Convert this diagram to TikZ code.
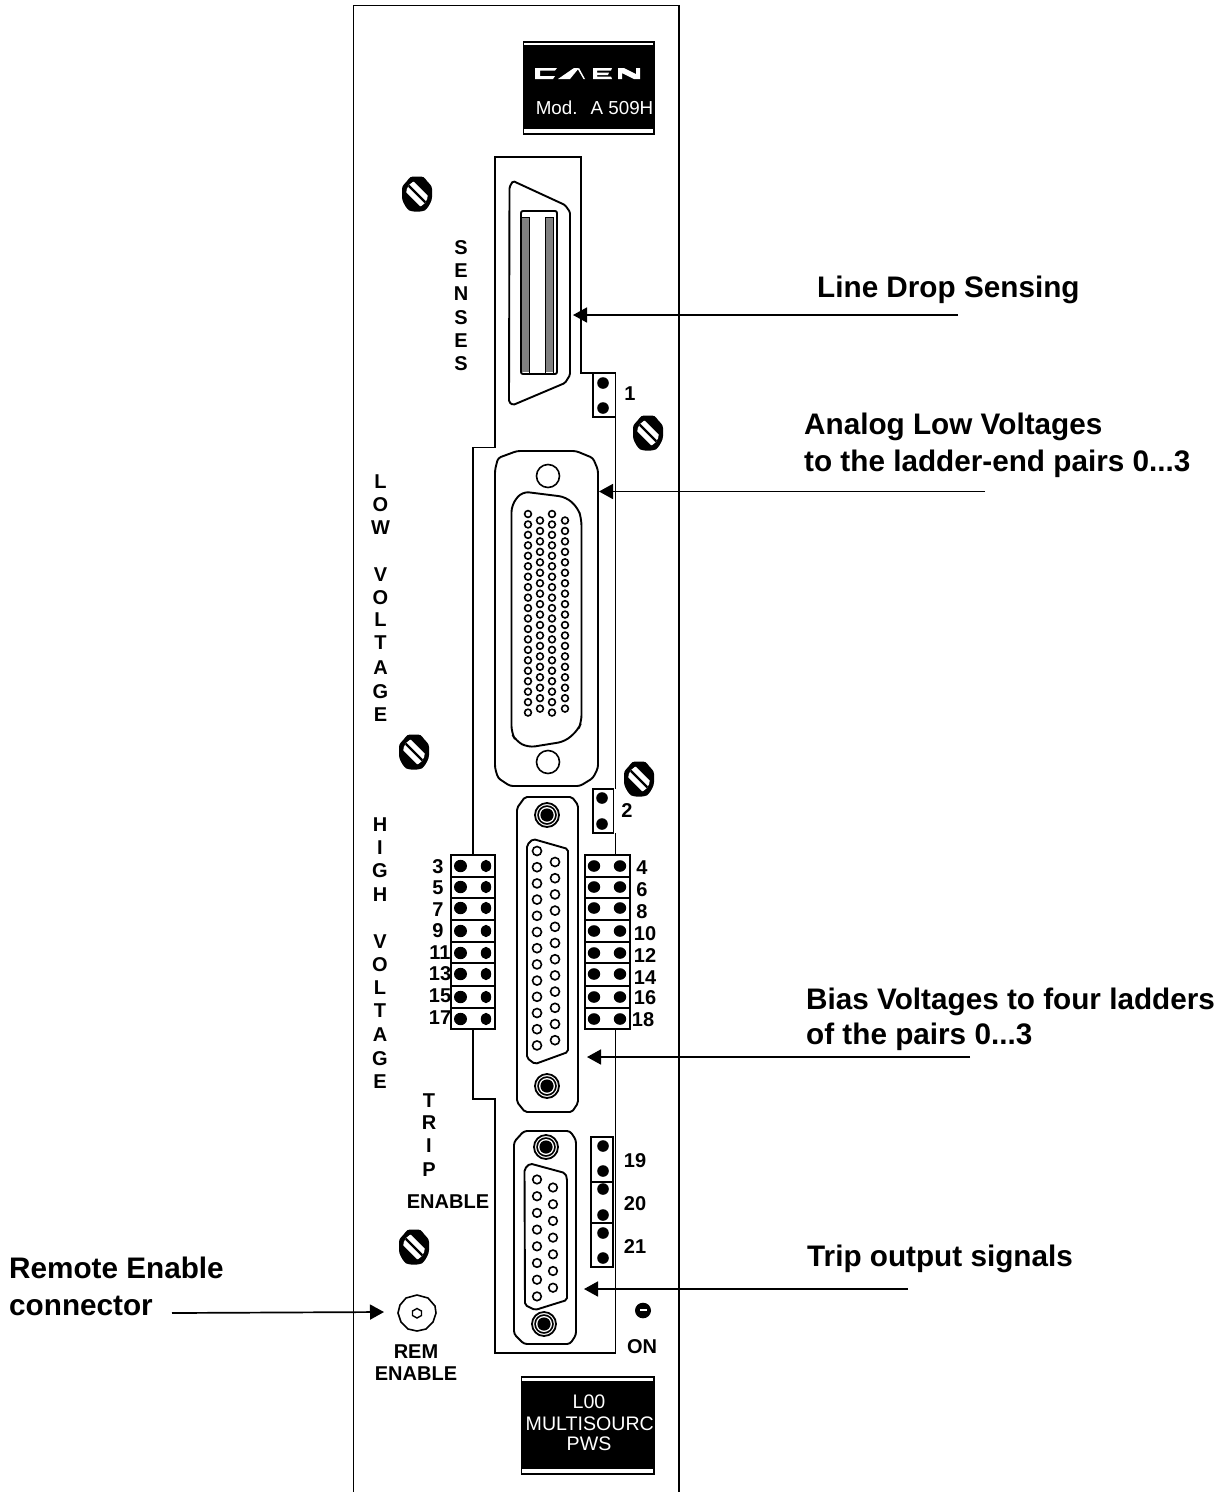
\documentclass[tikz,border=0pt]{standalone}
\usepackage{fontspec}
\setmainfont{Liberation Sans}
\usetikzlibrary{arrows.meta}
\tikzset{
  outline/.style={draw=black,line width=1.9pt,line join=miter},
  thinline/.style={draw=black,line width=1.6pt},
  pin/.style={draw=black,line width=1.6pt,fill=white},
  dot/.style={fill=black},
  callout/.style={draw=black,line width=1.7pt,-{Triangle[length=14pt,width=15pt]}},
  big/.style={font=\fontsize{29.7}{34}\selectfont\bfseries,anchor=base west,inner sep=0pt,align=left},
  small/.style={font=\fontsize{20}{24}\selectfont\bfseries,anchor=center,inner sep=0pt,yshift=-0.5pt},
  plate/.style={font=\fontsize{19.6}{22}\selectfont,text=white,anchor=center,inner sep=0pt},
  screwhead/.pic={
    \fill[black,rounded corners=3pt] (-7,-17.5) -- (7,-17.5) -- (10,-12.5) -- (15,-8) -- (15,6) -- (10,15) -- (6,17.5) -- (-6,17.5) -- (-10,15) -- (-15,6) -- (-15,-8) -- (-10,-12.5) -- cycle;
    \begin{scope}
      \clip (0,0) ellipse (11 and 13);
      \draw[white,line width=13pt] (-14,-14) -- (14,14);
      \draw[black,line width=2.4pt] (-14,-14) -- (14,14);
    \end{scope}
  },
  jackscrew/.pic={
    \draw[black,line width=1.8pt,fill=white] (0,0) circle (12);
    \fill[black] (0,0) circle (9.8);
    \fill[white] (0,0) circle (8);
    \fill[black] (0,0) circle (6.6);
  }
}
\begin{document}
\begin{tikzpicture}[x=1pt,y=-1pt]
\useasboundingbox (0,0) rectangle (1223,1492);
% panel
\draw[outline] (353.5,1492) -- (353.5,5.5) -- (679,5.5) -- (679,1492);
% top plate
\draw[black,fill=black,line width=1pt] (523,41) rectangle (654,134);
\fill[white] (524,42.5) rectangle (653,44.5);
\fill[white] (524,128.5) rectangle (653,132.5);
\fill[white] (535,68) -- (557,68) -- (555,70.5) -- (540,70.5) -- (540,76) -- (555,76) -- (553,79) -- (535,79) -- cycle;
\fill[white] (558,79) -- (574,68) -- (579,68) -- (570,79) -- cycle;
\fill[white] (579,68) -- (585,79) -- (583.5,79) -- (578,69.5) -- cycle;
\fill[white] (593,68) -- (612,68) -- (611,70.5) -- (597,70.5) -- (597,72.5) -- (609,72.5) -- (608,75) -- (597,75) -- (597,76.5) -- (611,76.5) -- (612,79) -- (593,79) -- cycle;
\fill[white] (618,68) -- (624,68) -- (636,74) -- (636,68) -- (640,68) -- (640,79) -- (634,79) -- (622,73) -- (622,79) -- (618,79) -- cycle;
\node[plate,font=\fontsize{18.8}{22}\selectfont,anchor=base east] (modlabel) at (653.5,114) {Mod.\kern 13pt A 509H};
% bottom plate
\draw[black,fill=black,line width=1pt] (521,1376) rectangle (654,1474);
\fill[white] (522,1377.5) rectangle (653,1381);
\fill[white] (522,1468.5) rectangle (653,1472.5);
\node[plate] (p1) at (589,1402) {L00};
\node[plate,anchor=east] (p2) at (654,1423.5) {MULTISOURC};
\node[plate] (p3) at (589,1444) {PWS};
% cut-out frame
\draw[outline] (593,373) -- (581,373) -- (581,157) -- (495,157) -- (495,447.5) -- (473,447.5) -- (473,855);
\draw[outline] (615.5,417) -- (615.5,789);
\draw[outline] (615.5,833) -- (615.5,855);
\draw[outline] (473,1029) -- (473,1099) -- (495,1099) -- (495,1353) -- (615.5,1353) -- (615.5,1029);
% jumper boxes
\draw[thinline] (593,373) rectangle (615.5,417);
\draw[thinline] (593,789) rectangle (613.5,833);
\draw[thinline] (591,1137) rectangle (613,1267);
\draw[thinline] (591,1182) -- (613,1182) (591,1223) -- (613,1223);
\draw[thinline] (451,855) rectangle (495,1029);
\draw[thinline] (585,855) rectangle (630,1029);
\foreach \y in {877,898,920,942,963,986,1008}{
  \draw[thinline] (451,\y) -- (495,\y) (585,\y) -- (630,\y);
}
\foreach \y in {866,887,908,931,953,974,997,1019}{
  \fill[dot] (460.5,\y) ellipse (6.5 and 6.2);
  \fill[dot] (486,\y) ellipse (5.2 and 6.2);
  \fill[dot] (594,\y) ellipse (6.2 and 5.8);
  \fill[dot] (620,\y) ellipse (6.2 and 5.8);
}
\foreach \x/\y in {603/383,603/408,602/798,602/824,603/1146,603/1171,603/1189,603/1215,603/1233,603/1258}{
  \fill[dot] (\x,\y) ellipse (5.8 and 5.8);
}
% top connector
\draw[outline,rounded corners=1.5pt] (509.5,187) -- (513,181) -- (565,205) -- (570,212) -- (570,375) -- (565,383) -- (513,405) -- (509,402) -- cycle;
\fill[black!50] (522,217) rectangle (529.5,372);
\fill[black!50] (545,217) rectangle (553,372);
\draw[outline,rounded corners=2pt] (521,211) rectangle (557,374);
\draw[black,line width=1pt] (529.5,217) -- (529.5,373) (545,217) -- (545,373) (553,217) -- (553,373) (522,217) -- (529.5,217) (545,217) -- (553,217);
% 78 pin connector
\draw[outline,rounded corners=3pt] (517,451) -- (576,451) -- (593,458) -- (598,470) -- (598,768) -- (593,778) -- (580,786) -- (510,786) -- (498,778) -- (495,768) -- (495,470) -- (498,458) -- cycle;
\draw[thinline] (548,476) circle (11.5);
\draw[thinline] (548,762) circle (11.5);
\draw[outline,rounded corners=7pt] (511.5,505) -- (522,491.5) -- (566,497) -- (578,508) -- (581.5,519) -- (581.5,722) -- (578,730) -- (565,741.5) -- (528,747.5) -- (516,741) -- (511.5,733) -- cycle;
\foreach \i in {0,...,19}{
  \draw[pin] (528,{514+10.45*\i}) circle (3.4);
  \draw[pin] (552,{514+10.45*\i}) circle (3.4);
}
\foreach \i in {0,...,18}{
  \draw[pin] (540,{520.5+10.45*\i}) circle (3.4);
  \draw[pin] (565,{520.5+10.45*\i}) circle (3.4);
}
% 25 pin connector
\draw[outline,rounded corners=2pt] (525,797) -- (572,797) -- (578,805) -- (578,1103) -- (572,1112) -- (525,1112) -- (517,1102) -- (517,808) -- cycle;
\draw[outline,rounded corners=2pt] (527,845) -- (533,839) -- (568,849) -- (568,1052) -- (535,1064) -- (527,1058) -- cycle;
\foreach \i in {0,...,12}{
  \draw[pin] (537,{851+16.2*\i}) circle (4.5);
}
\foreach \i in {0,...,11}{
  \draw[pin] (555,{862+16.2*\i}) circle (4.5);
}
\pic at (547,815) {jackscrew};
\pic at (547,1086) {jackscrew};
% 15 pin connector
\draw[outline,rounded corners=3pt] (524,1131) -- (570,1131) -- (576,1140) -- (576,1335) -- (570,1344) -- (524,1344) -- (514,1334) -- (514,1142) -- cycle;
\draw[outline,rounded corners=2pt] (524.5,1169) -- (530,1163.5) -- (565,1173) -- (567,1178) -- (567,1300) -- (535,1310) -- (525,1305) -- cycle;
\foreach \i in {0,...,7}{
  \draw[pin] (537,{1179.5+16.7*\i}) circle (4.3);
}
\foreach \i in {0,...,6}{
  \draw[pin] (553,{1187.5+16.7*\i}) circle (4.3);
}
\pic at (546,1147) {jackscrew};
\pic at (544,1324) {jackscrew};
% panel screws
\pic at (417,194) {screwhead};
\pic at (648,433) {screwhead};
\pic at (414,752) {screwhead};
\pic at (639,779) {screwhead};
\pic at (414,1247) {screwhead};
% remote connector
\draw[thinline,fill=white] (417,1295) -- (428,1298) -- (435,1306) -- (436,1313) -- (433,1322) -- (426,1329) -- (417,1331) -- (408,1329) -- (401,1322) -- (398,1313) -- (400,1305) -- (406,1298) -- cycle;
\draw[black,line width=1.4pt] (417,1308.5) -- (421.5,1311) -- (421.5,1315.5) -- (417,1318) -- (412.5,1315.5) -- (412.5,1311) -- cycle;
% ON LED
\fill[black] (643,1310.5) ellipse (8 and 7.8);
\fill[white] (640,1308.5) rectangle (646.5,1310.5);
% vertical words
\foreach \l/\y [count=\n] in {S/247,E/270,N/293,S/317,E/340,S/363}{
  \node[small] (sen\n) at (461,\y) {\l};
}
\foreach \l/\y [count=\n] in {L/481,O/504,W/527,V/574,O/597,L/619,T/642,A/667,G/691,E/714}{
  \node[small] (low\n) at (380.5,\y) {\l};
}
\foreach \l/\y [count=\n] in {H/824,I/847,G/870,H/894,V/941,O/964,L/987,T/1010,A/1034,G/1058,E/1081}{
  \node[small] (high\n) at (380,\y) {\l};
}
\foreach \l/\y [count=\n] in {T/1100,R/1122,I/1145,P/1169}{
  \node[small] (trip\n) at (429,\y) {\l};
}
\node[small] (tripen) at (448,1201) {ENABLE};
\node[small] (rem) at (416,1351) {REM};
\node[small] (remen) at (416,1373) {ENABLE};
\node[small] (on) at (642,1346) {ON};
\node[small] (j1) at (630,393) {1};
\node[small] (j2) at (627,810) {2};
\foreach \t/\x/\y in {3/438/866,5/438/887,7/438/909,9/438/930,11/440/952,13/440/973,15/440/995,17/440/1017,4/642/867,6/642/889,8/642/911,10/645/933,12/645/955,14/645/977,16/645/997,18/643/1019,19/635/1160,20/635/1203,21/635/1246}{
  \node[small] (num\t) at (\x,\y) {\t};
}
% callouts
\node[big] (tline) at (817,297) {Line Drop Sensing};
\node[big] (tana1) at (804,434) {Analog Low Voltages};
\node[big] (tana2) at (804,471) {to the ladder-end pairs 0...3};
\node[big] (tbias1) at (806,1009.5) {Bias Voltages to four ladders};
\node[big] (tbias2) at (806,1044.5) {of the pairs 0...3};
\node[big] (ttrip) at (807,1266.5) {Trip output signals};
\node[big] (trem1) at (9,1278.5) {Remote Enable};
\node[big] (trem2) at (9,1315.5) {connector};
\coordinate (a1s) at (958,315); \coordinate (a1e) at (573,315);
\coordinate (a2s) at (985,491.5); \coordinate (a2e) at (599,491.5);
\coordinate (a3s) at (970,1057); \coordinate (a3e) at (587,1057);
\coordinate (a4s) at (908,1289); \coordinate (a4e) at (584,1289);
\coordinate (a5s) at (172,1313); \coordinate (a5e) at (384,1312);
\draw[callout] (a1s) -- (a1e);
\draw[callout] (a2s) -- (a2e);
\draw[callout] (a3s) -- (a3e);
\draw[callout] (a4s) -- (a4e);
\draw[callout] (a5s) -- (a5e);
\end{tikzpicture}
\end{document}
